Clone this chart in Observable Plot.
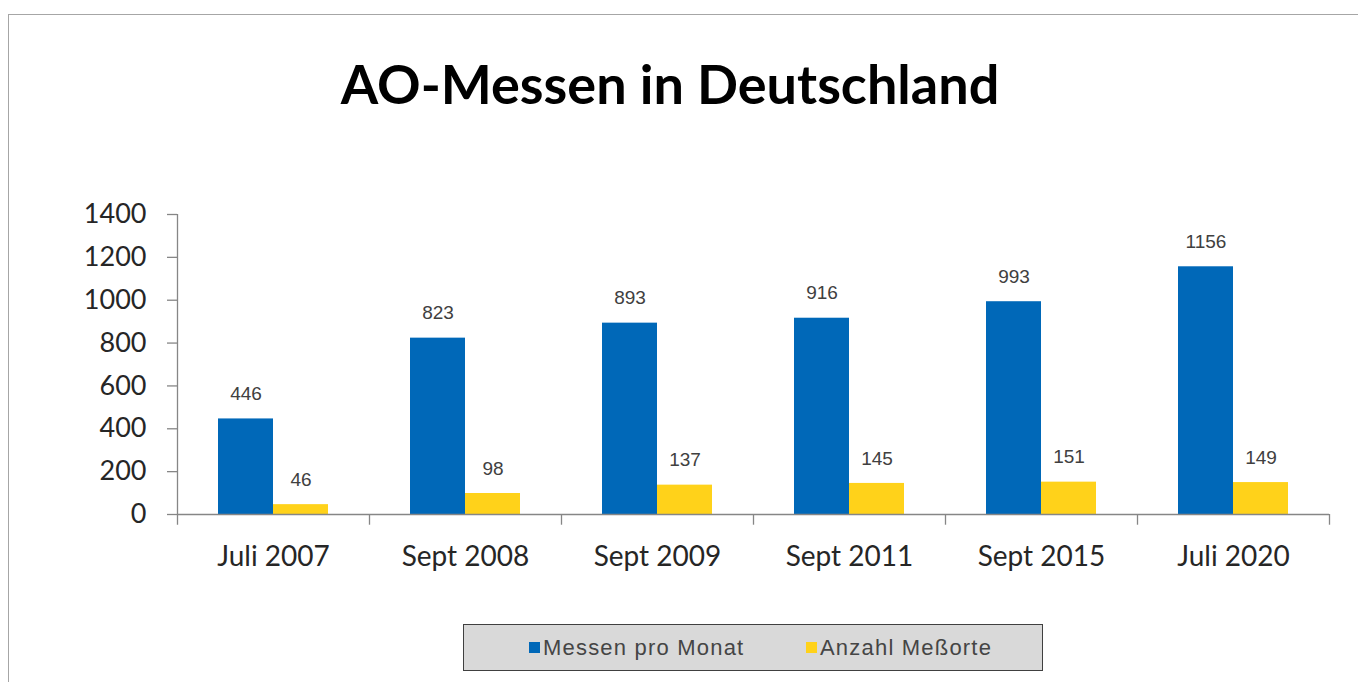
<!DOCTYPE html>
<html>
<head>
<meta charset="utf-8">
<script src="https://cdn.jsdelivr.net/npm/d3@7"></script>
<script src="https://cdn.jsdelivr.net/npm/@observablehq/plot@0.6"></script>
<style>
  html, body { margin: 0; padding: 0; background: #fff; }
  #wrap { position: relative; width: 1358px; height: 682px; overflow: hidden; }
  #frame { position: absolute; left: 8px; top: 14px; width: 1400px; height: 700px; border: 1.5px solid #a6a6a6; box-sizing: border-box; }
  #title { position: absolute; left: 0; width: 1340px; top: 51px; text-align: center; font-family: Lato, "Open Sans", sans-serif; font-weight: 700; font-size: 54px; color: #000; }
  #chart { position: absolute; left: 0; top: 0; }
  #legend { position: absolute; left: 463px; top: 624px; width: 580px; height: 47px; box-sizing: border-box; background: #d9d9d9; border: 1.5px solid #404040; font-family: "Liberation Sans", Arial, sans-serif; font-size: 22px; color: #454545; }
  .li { position: absolute; top: 10px; height: 25px; display: flex; align-items: center; }
  .sw { width: 11px; height: 11px; margin-right: 3px; }
  .lt { display: inline-block; letter-spacing: 1.2px; line-height: 25px; }
</style>
</head>
<body>
<div id="wrap">
  <div id="frame"></div>
  <div id="title">AO-Messen in Deutschland</div>
  <div id="chart"></div>
  <div id="legend"></div>
</div>
<script>
const categories = ["Juli 2007", "Sept 2008", "Sept 2009", "Sept 2011", "Sept 2015", "Juli 2020"];
const messenProMonat = [446, 823, 893, 916, 993, 1156];
const anzahlMessorte = [46, 98, 137, 145, 151, 149];
const seriesNames = ["Messen pro Monat", "Anzahl Meßorte"];
const seriesColors = ["#0068b8", "#ffd21a"];
const yTicks = [0, 200, 400, 600, 800, 1000, 1200, 1400];

const blue = categories.map((c, i) => ({cat: c, v: messenProMonat[i]}));
const yellow = categories.map((c, i) => ({cat: c, v: anzahlMessorte[i]}));

const axisColor = "#868686";
const band = 192;
const barW = 55;
const outer = (band - 2 * barW) / 2;
const labelFont = "Lato, 'Open Sans', sans-serif";
const valueFont = "'Liberation Sans', Arial, sans-serif";

const plot = Plot.plot({
  width: 1358,
  height: 600,
  marginLeft: 177,
  marginRight: 29,
  marginTop: 214,
  marginBottom: 86,
  style: {background: "transparent", overflow: "visible"},
  x: {domain: categories, padding: 0, label: null},
  y: {domain: [0, 1400], label: null},
  marks: [
    Plot.barY(blue, {x: "cat", y: "v", fill: seriesColors[0], insetLeft: outer, insetRight: band - outer - barW}),
    Plot.barY(yellow, {x: "cat", y: "v", fill: seriesColors[1], insetLeft: outer + barW, insetRight: outer}),
    Plot.ruleY([0], {stroke: axisColor, strokeWidth: 1.3}),
    Plot.ruleX(categories, {x: d => d, dx: -band / 2, y1: 1400, y2: -50, stroke: axisColor, strokeWidth: 1.3, filter: (d, i) => i === 0}),
    Plot.ruleX(categories, {x: d => d, dx: -band / 2, y1: 0, y2: -50, stroke: axisColor, strokeWidth: 1.3, filter: (d, i) => i > 0}),
    Plot.ruleX([categories[categories.length - 1]], {x: d => d, dx: band / 2, y1: 0, y2: -50, stroke: axisColor, strokeWidth: 1.3}),
    Plot.axisY(yTicks, {tickSize: 10, tickPadding: 21, stroke: axisColor, strokeWidth: 1.3, fill: "#262626", fontSize: 27, fontFamily: labelFont, tickFormat: d => String(d), label: null}),
    Plot.axisX({tickSize: 0, tickPadding: 32, fill: "#262626", fontSize: 28, fontFamily: labelFont, label: null}),
    Plot.text(blue, {x: "cat", y: "v", text: d => String(d.v), dx: -band / 2 + outer + barW / 2, dy: -25, fill: "#404040", fontSize: 19, fontFamily: valueFont}),
    Plot.text(yellow, {x: "cat", y: "v", text: d => String(d.v), dx: band / 2 - outer - barW / 2, dy: -25, fill: "#404040", fontSize: 19, fontFamily: valueFont})
  ]
});
document.getElementById("chart").appendChild(plot);

const legend = document.getElementById("legend");
const legendLeft = [65, 342];
seriesNames.forEach((name, i) => {
  const item = document.createElement("div");
  item.className = "li";
  item.style.left = legendLeft[i] + "px";
  const sw = document.createElement("span");
  sw.className = "sw";
  sw.style.background = seriesColors[i];
  const t = document.createElement("span");
  t.className = "lt";
  t.textContent = name;
  item.appendChild(sw);
  item.appendChild(t);
  legend.appendChild(item);
});
</script>
</body>
</html>
